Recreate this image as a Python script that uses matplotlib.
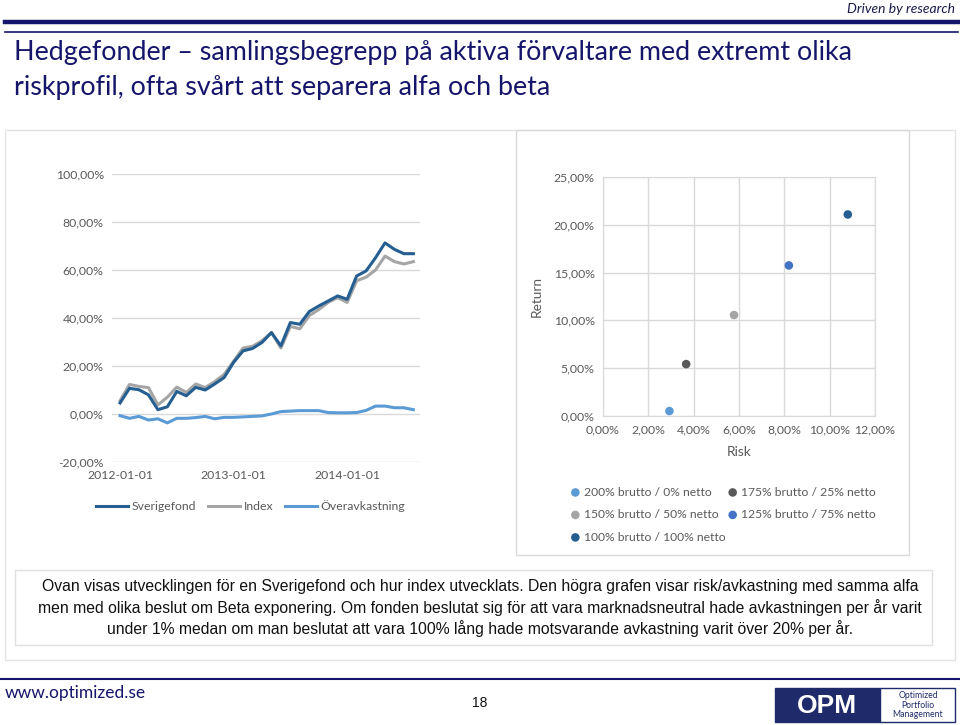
import matplotlib.pyplot as plt
from matplotlib.patches import Rectangle
from matplotlib.ticker import FuncFormatter
import numpy as np

# monthly data 2012-01 .. 2014-08 (percent)
months = np.arange(32)
sverigefond = [4.6, 10.7, 10.1, 8.0, 1.8, 3.0, 9.4, 7.6, 11.1, 10.0, 12.5, 15.2,
               21.5, 26.3, 27.3, 29.8, 33.9, 28.4, 38.1, 37.4, 42.7, 45.0, 47.1, 49.2,
               47.8, 57.5, 59.6, 65.1, 71.3, 68.6, 66.8, 66.8]
index = [5.5, 12.3, 11.5, 11.0, 3.8, 7.0, 11.2, 9.0, 12.5, 11.0, 13.5, 16.5,
         22.0, 27.5, 28.2, 30.5, 34.0, 27.5, 36.5, 35.5, 41.0, 43.5, 46.5, 48.5,
         46.5, 55.5, 57.0, 60.0, 65.8, 63.5, 62.5, 63.5]
overavk = [-0.7, -1.8, -1.0, -2.5, -2.0, -3.7, -1.8, -1.8, -1.5, -1.0, -2.0, -1.4,
           -1.4, -1.2, -1.0, -0.8, 0.0, 1.0, 1.2, 1.4, 1.4, 1.4, 0.6, 0.5,
           0.5, 0.6, 1.5, 3.3, 3.3, 2.6, 2.6, 1.8]
date_ticks = [0, 12, 24]
date_labels = ['2012-01-01', '2013-01-01', '2014-01-01']

# risk / return per beta exposure (percent)
labels = ['200% brutto / 0% netto', '175% brutto / 25% netto', '150% brutto / 50% netto',
          '125% brutto / 75% netto', '100% brutto / 100% netto']
risk = [2.93, 3.67, 5.78, 8.2, 10.8]
ret = [0.52, 5.43, 10.56, 15.75, 21.08]
colors = ['#5b9bd5', '#595959', '#a5a5a5', '#4472c4', '#255e91']

W, H = 960, 725
navy = '#15156b'
tick_col = '#595959'
grid_col = '#d9d9d9'


def box(x0, y0, x1, y1):
    return [x0 / W, 1 - y1 / H, (x1 - x0) / W, (y1 - y0) / H]


def pct(v, pos):
    return f'{v:.2f}%'.replace('.', ',')


fig = plt.figure(figsize=(9.6, 7.25), dpi=100)
bg = fig.add_axes([0, 0, 1, 1])
bg.set_xlim(0, W)
bg.set_ylim(H, 0)
bg.axis('off')

# header
bg.text(955, 9, 'Driven by research', ha='right', va='center', style='italic',
        fontsize=10, color='#1a1a4a', family='Lato')
bg.plot([5, 958], [22, 22], color=navy, lw=3.2)
bg.plot([5, 958], [32, 32], color=navy, lw=1.2)
bg.text(14, 52, 'Hedgefonder – samlingsbegrepp på aktiva förvaltare med extremt olika',
        ha='left', va='center', fontsize=19.4, color=navy, family='Lato')
bg.text(14, 87, 'riskprofil, ofta svårt att separera alfa och beta',
        ha='left', va='center', fontsize=19.4, color=navy, family='Lato')

# panels
bg.add_patch(Rectangle((5, 130), 950, 530, fill=False, ec='#e3e3e3', lw=1))
bg.add_patch(Rectangle((516, 130), 393, 425, fill=False, ec='#d9d9d9', lw=1))
bg.add_patch(Rectangle((15, 570), 917, 75, fill=False, ec='#e0e0e0', lw=1))

body = ('Ovan visas utvecklingen för en Sverigefond och hur index utvecklats. Den högra grafen visar risk/avkastning med samma alfa\n'
        'men med olika beslut om Beta exponering. Om fonden beslutat sig för att vara marknadsneutral hade avkastningen per år varit\n'
        'under 1% medan om man beslutat att vara 100% lång hade motsvarande avkastning varit över 20% per år.')
bg.text(480, 608, body, ha='center', va='center', fontsize=11.3, color='#111111',
        family='Liberation Sans', linespacing=1.3)

# footer
bg.plot([0, 960], [679, 679], color=navy, lw=1.5)
bg.text(5, 693, 'www.optimized.se', ha='left', va='center', fontsize=12.5, color=navy, family='Lato')
bg.text(480, 703, '18', ha='center', va='center', fontsize=10, color='#111111', family='Liberation Sans')
bg.add_patch(Rectangle((775, 688), 105, 34, fc='#1f2a6b', ec='#1f2a6b'))
bg.text(827, 706, 'OPM', ha='center', va='center', fontsize=19, fontweight='bold',
        color='white', family='Liberation Sans')
bg.add_patch(Rectangle((880, 688), 75, 34, fc='white', ec='#1f2a6b', lw=1))
bg.text(918, 705, 'Optimized\nPortfolio\nManagement', ha='center', va='center', fontsize=6.2,
        color='#1f2a6b', family='Lato', linespacing=1.1)

# line chart
ax = fig.add_axes(box(112, 174, 420, 462))
ax.plot(months, index, color='#a5a5a5', lw=2.2, label='Index', zorder=2)
ax.plot(months, sverigefond, color='#255e91', lw=2.2, label='Sverigefond', zorder=3)
ax.plot(months, overavk, color='#5b9bd5', lw=2.2, label='Överavkastning', zorder=3)
ax.set_xlim(-0.85, 31.7)
ax.set_ylim(-20, 100)
ax.set_yticks(np.arange(-20, 101, 20))
ax.yaxis.set_major_formatter(FuncFormatter(pct))
ax.set_xticks(date_ticks)
ax.set_xticklabels(date_labels)
ax.grid(axis='y', color=grid_col, lw=1)
ax.set_axisbelow(True)
for s in ax.spines.values():
    s.set_visible(False)
ax.tick_params(length=0, colors=tick_col, labelsize=8.8, pad=6)
for t in ax.get_xticklabels() + ax.get_yticklabels():
    t.set_family('Lato')
h, l = ax.get_legend_handles_labels()
order = [1, 0, 2]
leg = ax.legend([h[i] for i in order], [l[i] for i in order], loc='upper center',
                bbox_to_anchor=(0.45, -0.095), ncol=3, frameon=False, handlelength=2.6,
                columnspacing=1.0, handletextpad=0.3, prop={'family': 'Lato', 'size': 8.8})
for t in leg.get_texts():
    t.set_color(tick_col)

# scatter chart
ax2 = fig.add_axes(box(603, 177, 875, 416))
for r, v, c, lab in zip(risk, ret, colors, labels):
    ax2.scatter(r, v, s=38, color=c, label=lab, zorder=3, edgecolors='none')
ax2.set_xlim(0, 12)
ax2.set_ylim(0, 25)
ax2.set_xticks(np.arange(0, 12.1, 2))
ax2.set_yticks(np.arange(0, 25.1, 5))
ax2.xaxis.set_major_formatter(FuncFormatter(pct))
ax2.yaxis.set_major_formatter(FuncFormatter(pct))
ax2.grid(color=grid_col, lw=1)
ax2.set_axisbelow(True)
for s in ax2.spines.values():
    s.set_color(grid_col)
ax2.tick_params(length=0, colors=tick_col, labelsize=8.8, pad=6)
for t in ax2.get_xticklabels() + ax2.get_yticklabels():
    t.set_family('Lato')
ax2.set_xlabel('Risk', color=tick_col, fontsize=9.8, family='Lato', labelpad=8)
ax2.set_ylabel('Return', color=tick_col, fontsize=9.8, family='Lato', labelpad=8)
h2, l2 = ax2.get_legend_handles_labels()
order2 = [0, 2, 4, 1, 3]
leg2 = ax2.legend([h2[i] for i in order2], [l2[i] for i in order2], loc='upper left',
                  bbox_to_anchor=(-0.155, -0.25), ncol=2, frameon=False, handlelength=0.6,
                  handletextpad=0.4, columnspacing=0.3, labelspacing=0.95,
                  prop={'family': 'Lato', 'size': 8.7})
for t in leg2.get_texts():
    t.set_color(tick_col)

fig.savefig('out.png', dpi=100)
